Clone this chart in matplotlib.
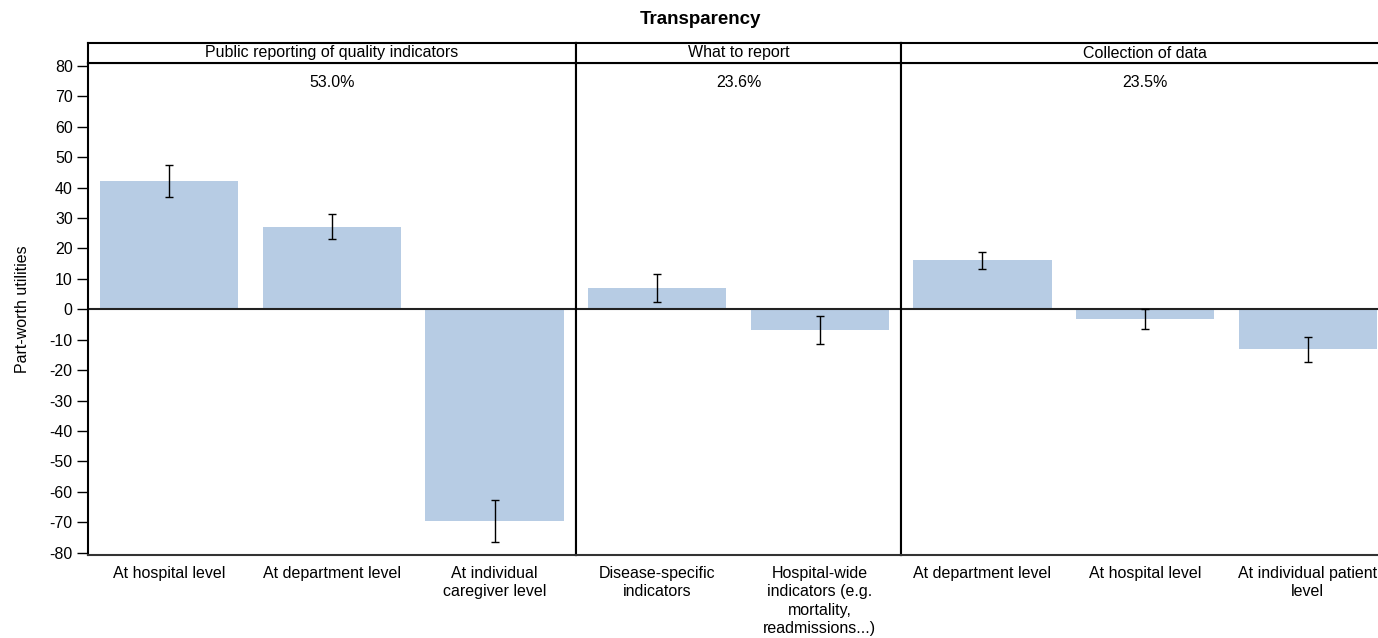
#!/usr/bin/env python3

import matplotlib

matplotlib.use("Agg")
import matplotlib.pyplot as plt
import numpy as np

plt.rcParams["font.family"] = ["Liberation Sans", "DejaVu Sans"]
plt.rcParams["axes.unicode_minus"] = False

# Attribute groups with their relative importance
groups = ["Public reporting of quality indicators", "What to report", "Collection of data"]
importance = ["53.0%", "23.6%", "23.5%"]

# Levels in each group
levels = [
    ["At hospital level", "At department level", "At individual\ncaregiver level"],
    ["Disease-specific\nindicators", "Hospital-wide\nindicators (e.g.\nmortality,\nreadmissions...)"],
    ["At department level", "At hospital level", "At individual patient\nlevel"],
]
utilities = [
    [42.2, 27.2, -69.6],
    [6.9, -6.9],
    [16.1, -3.3, -13.1],
]
errors = [
    [5.2, 4.1, 6.8],
    [4.6, 4.6],
    [2.7, 3.3, 4.1],
]

BAR_COLOR = "#b7cce4"
FS = 11.5
W, H = 1378, 638


def main() -> None:
    fig = plt.figure(figsize=(W / 100, H / 100), dpi=100)

    left_px, right_px = 88, 1389
    top_px, bottom_px, strip_top_px = 63, 555, 43
    unit = (right_px - left_px) / sum(len(lv) for lv in levels)

    x0 = left_px
    for gi, (name, pct, lv, vals, errs) in enumerate(
        zip(groups, importance, levels, utilities, errors)
    ):
        width_px = unit * len(lv)
        ax = fig.add_axes(
            [x0 / W, 1 - bottom_px / H, width_px / W, (bottom_px - top_px) / H]
        )
        pos = np.arange(len(lv))
        ax.bar(pos, vals, width=0.85, color=BAR_COLOR, zorder=1)
        ax.errorbar(
            pos, vals, yerr=errs, fmt="none", ecolor="black",
            elinewidth=1.0, capsize=3, capthick=1.0, zorder=3,
        )
        ax.axhline(0, color="#222222", lw=1.5, zorder=2)
        ax.set_xlim(-0.5, len(lv) - 0.5)
        ax.set_ylim(-80.8, 81.0)
        ax.set_xticks(pos)
        ax.set_xticklabels(lv, fontsize=FS, linespacing=1.28)
        ax.tick_params(axis="x", length=0, pad=8)
        ax.text(
            (len(lv) - 1) / 2, 74.5, pct, ha="center", va="center", fontsize=FS
        )
        for side in ["left", "right", "top"]:
            ax.spines[side].set_linewidth(1.5)
            ax.spines[side].set_color("black")
        ax.spines["bottom"].set_linewidth(1.5)
        ax.spines["bottom"].set_color("#333333")
        if gi == 0:
            ax.set_yticks(np.arange(-80, 81, 10))
            ax.tick_params(axis="y", length=8, width=1, labelsize=FS, pad=3)
            ax.set_ylabel("Part-worth utilities", fontsize=FS, labelpad=14)
        else:
            ax.set_yticks([])

        # Strip header above the panel
        sx = fig.add_axes(
            [x0 / W, 1 - top_px / H, width_px / W, (top_px - strip_top_px) / H]
        )
        sx.set_xticks([])
        sx.set_yticks([])
        for side in sx.spines.values():
            side.set_linewidth(1.5)
        sx.text(0.5, 0.5, name, ha="center", va="center", fontsize=FS,
                transform=sx.transAxes)
        x0 += width_px

    fig.text(700 / W, 1 - 20 / H, "Transparency", ha="center", va="center",
             fontsize=13.5, fontweight="bold")

    fig.savefig("out.png", dpi=100)


if __name__ == "__main__":
    main()
